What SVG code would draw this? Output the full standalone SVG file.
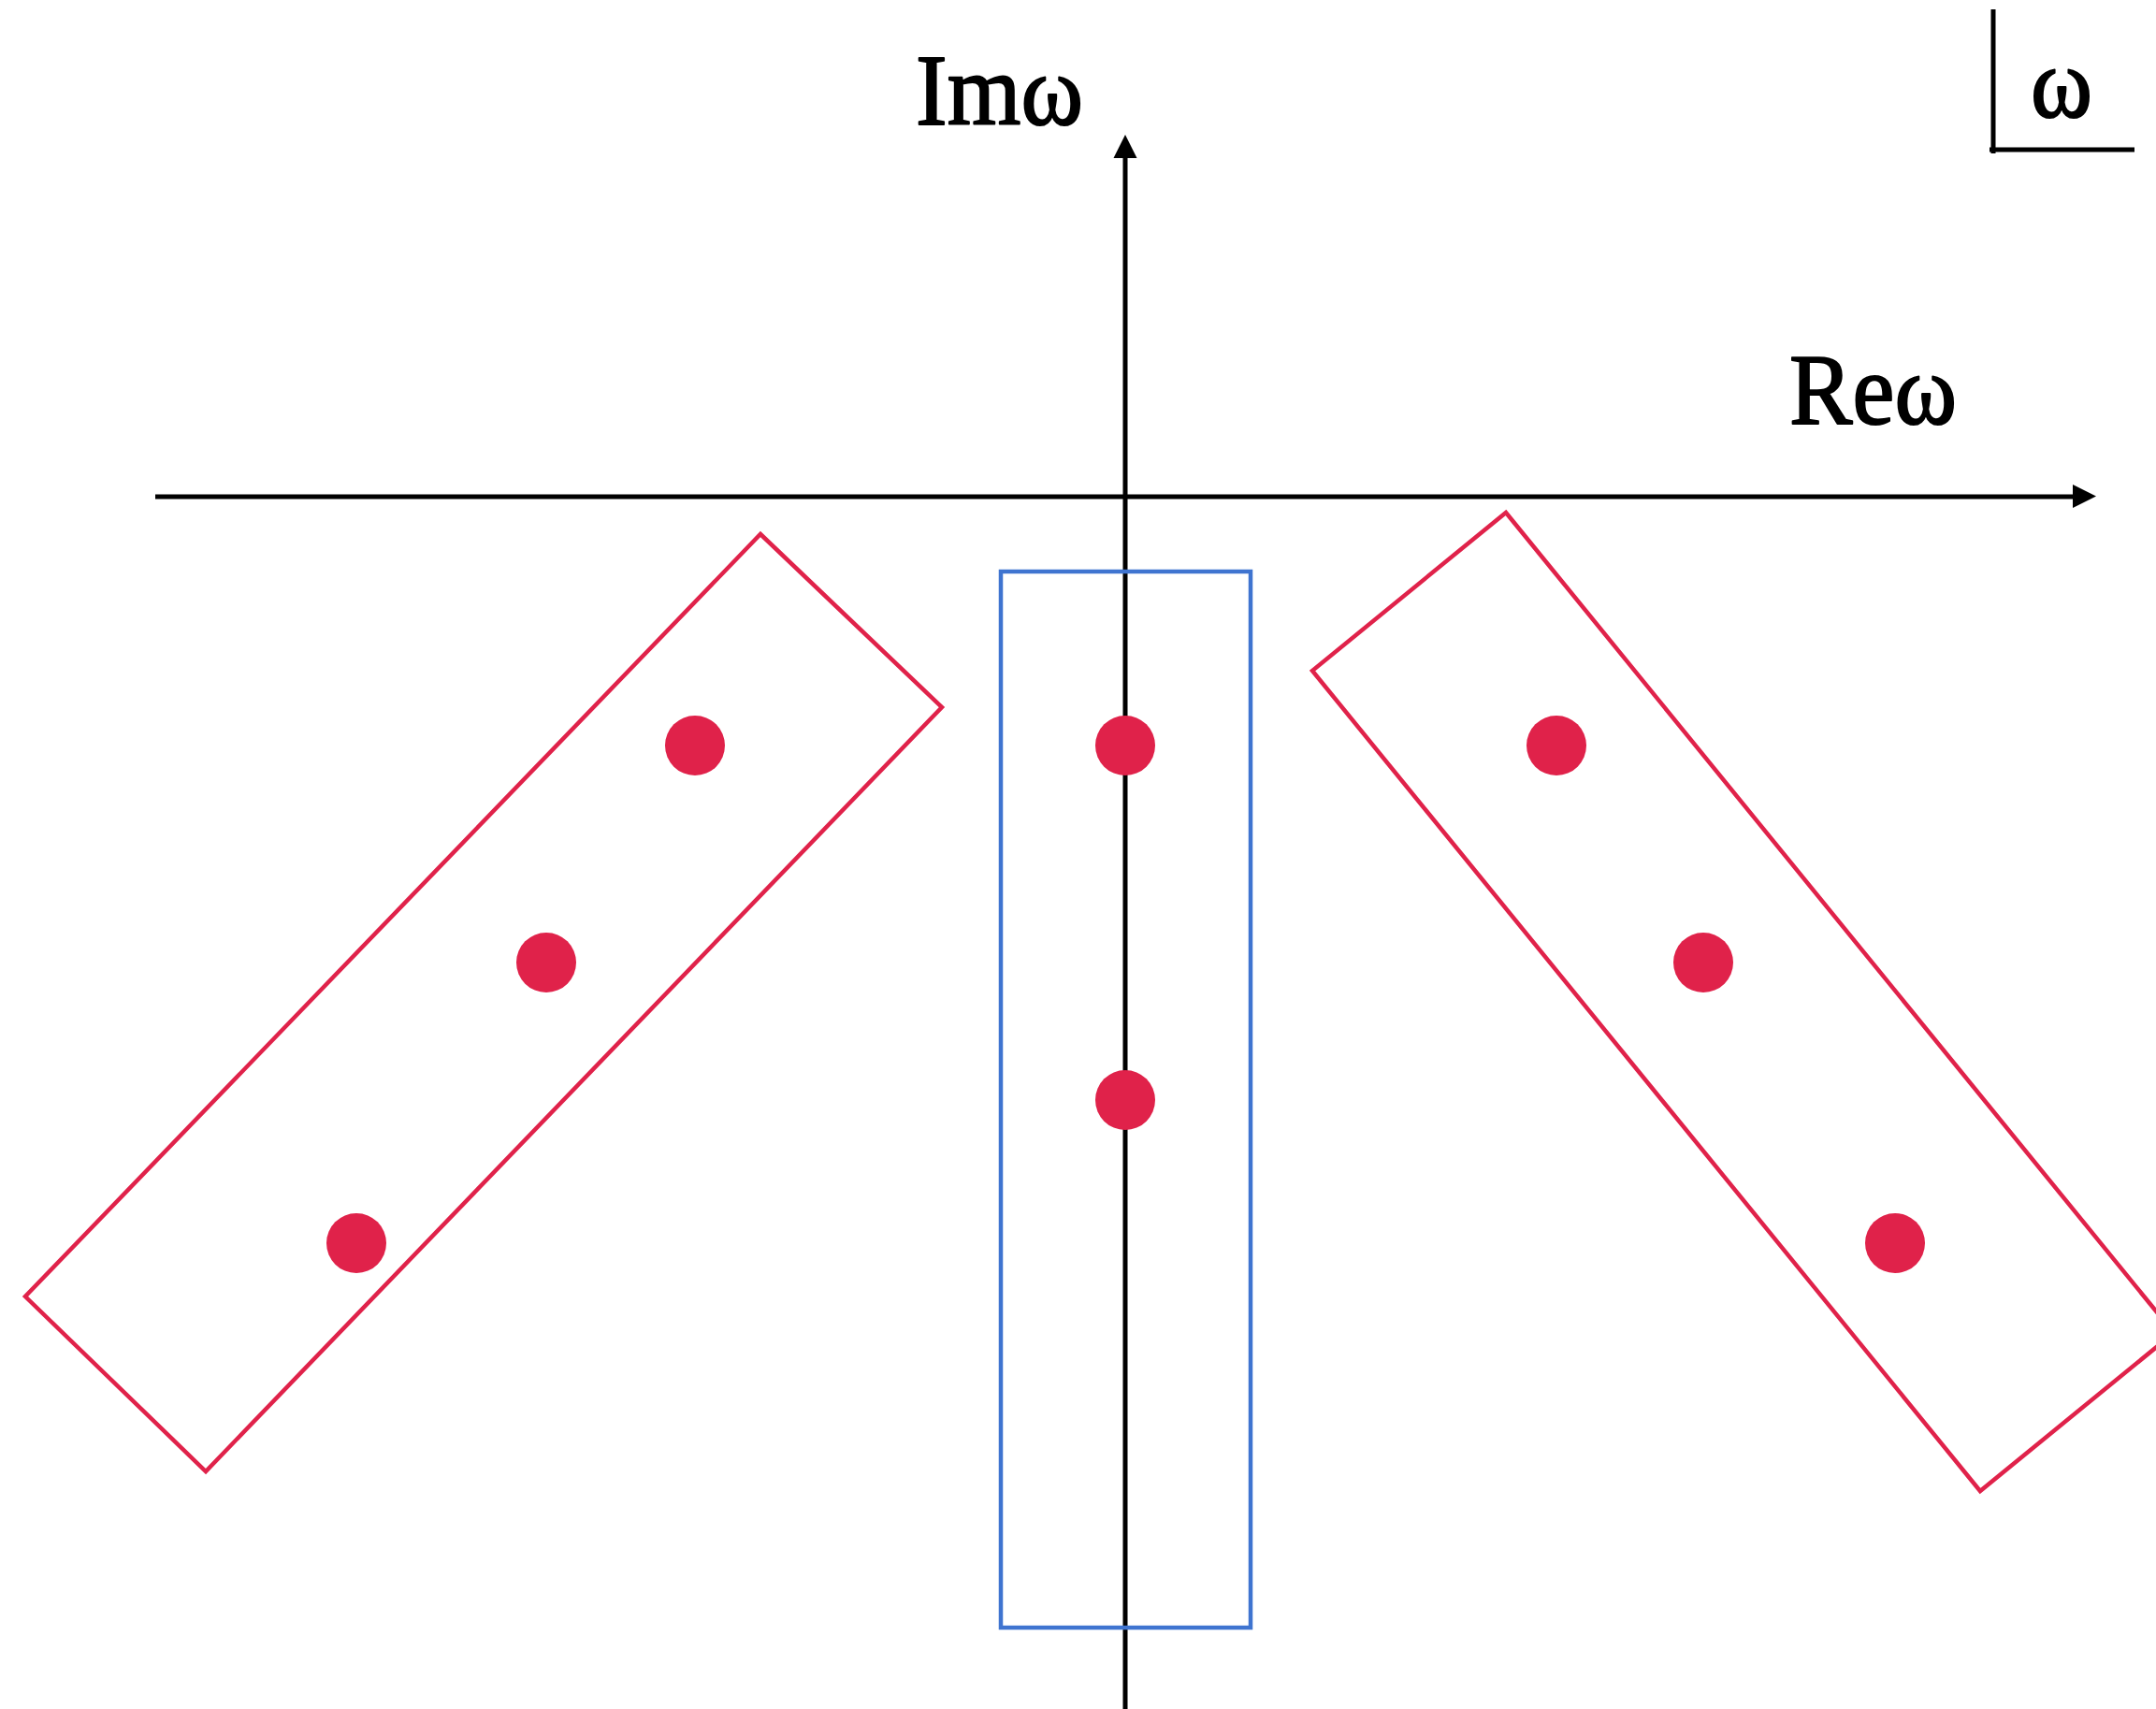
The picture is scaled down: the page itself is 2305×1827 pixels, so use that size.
<svg xmlns="http://www.w3.org/2000/svg" width="2305" height="1827" viewBox="0 0 2305 1827">
<style>
.axis{stroke:#000;stroke-width:5;fill:none}
.grp{fill:none;stroke:#e0224a;stroke-width:4.5}
.blue{fill:none;stroke:#3f74d0;stroke-width:4.5}
.pole{fill:#e0224a}
.lbl{font-family:"Liberation Serif","DejaVu Serif",serif;font-size:108px;fill:#000;stroke:#000;stroke-width:2;stroke-linejoin:round}
</style>
<rect width="2305" height="1827" fill="#fff"/>
<g id="connectors">
<line class="axis" x1="166" y1="531" x2="2218" y2="531"/>
<polygon points="2216,518 2241,530.5 2216,543" fill="#000"/>
<line class="axis" x1="1203" y1="167" x2="1203" y2="1827"/>
<polygon points="1190.5,169 1203,144 1215.5,169" fill="#000"/>
</g>
<g id="label-im"><text class="lbl" x="979" y="133" textLength="179" lengthAdjust="spacingAndGlyphs">Imω</text></g>
<g id="label-re"><text class="lbl" x="1913" y="453" textLength="179" lengthAdjust="spacingAndGlyphs">Reω</text></g>
<g id="plane-tag">
<line class="axis" x1="2131" y1="10" x2="2131" y2="164"/>
<line class="axis" x1="2127" y1="160" x2="2282" y2="160"/>
<text class="lbl" x="2171" y="125" textLength="66" lengthAdjust="spacingAndGlyphs">ω</text>
</g>
<g id="group-left">
<polygon class="grp" points="813,571 1007,756 220,1573 27,1386"/>
<circle class="pole" cx="743" cy="797" r="32"/>
<circle class="pole" cx="584" cy="1029" r="32"/>
<circle class="pole" cx="381" cy="1329" r="32"/>
</g>
<g id="group-center">
<rect class="blue" x="1070" y="611" width="267" height="1129"/>
<circle class="pole" cx="1203" cy="797" r="32"/>
<circle class="pole" cx="1203" cy="1176" r="32"/>
</g>
<g id="group-right">
<polygon class="grp" points="1610,548 2324,1425 2117,1594 1403,717"/>
<circle class="pole" cx="1664" cy="797" r="32"/>
<circle class="pole" cx="1821" cy="1029" r="32"/>
<circle class="pole" cx="2026" cy="1329" r="32"/>
</g>
</svg>
